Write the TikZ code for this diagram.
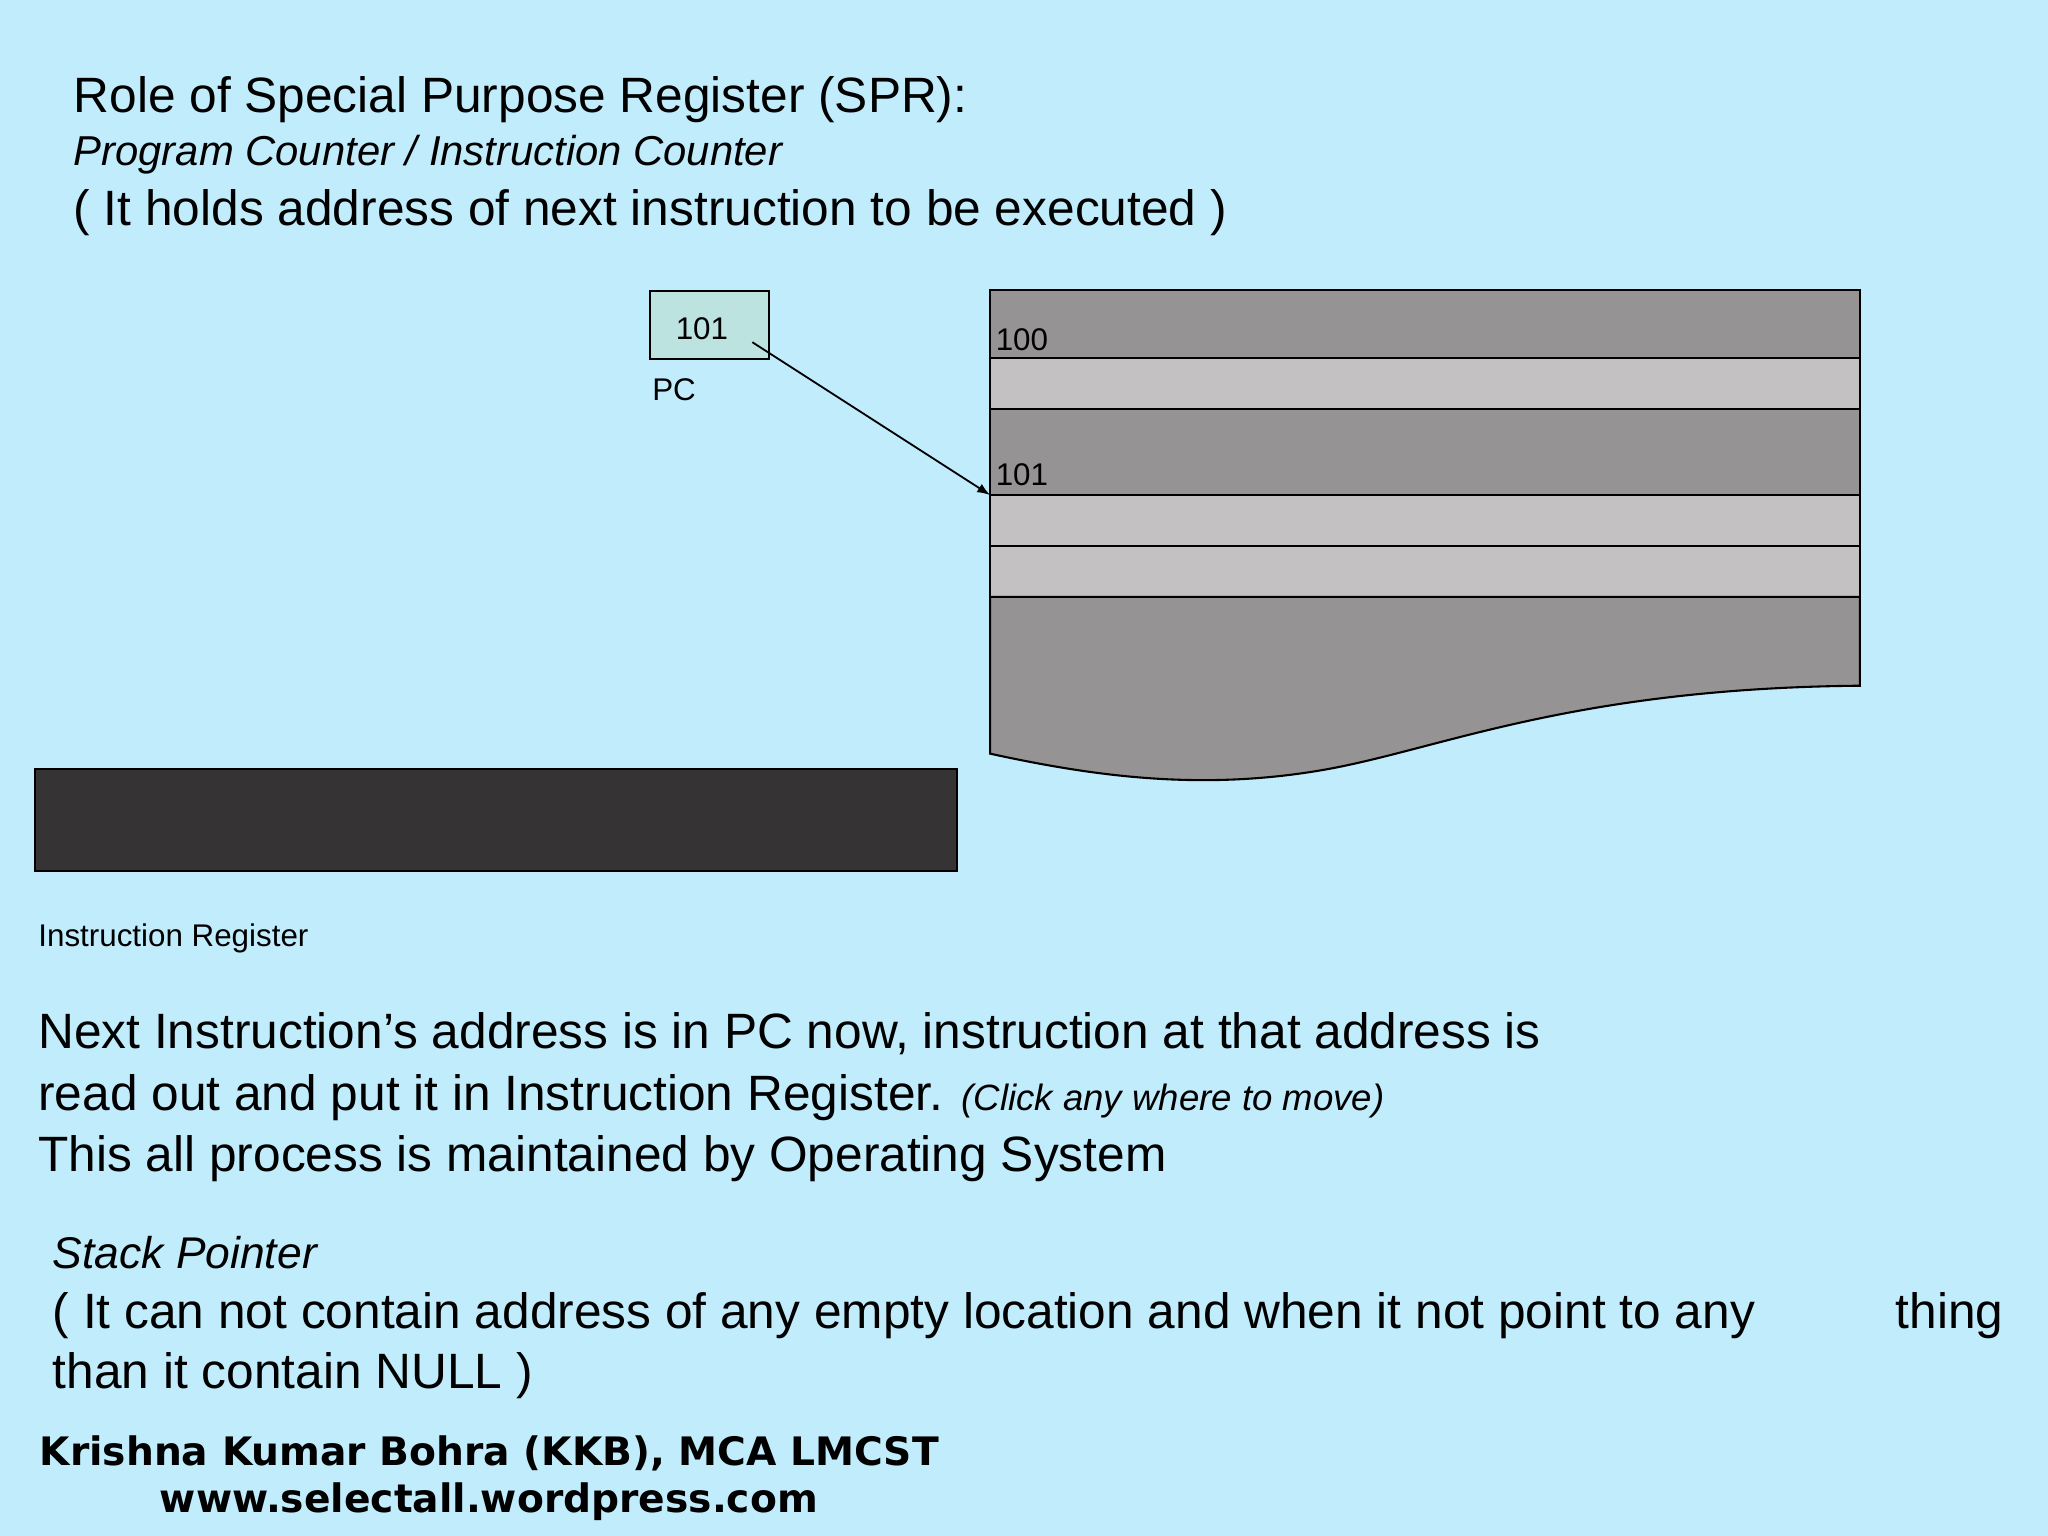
\documentclass[tikz,border=0pt]{standalone}
\usepackage{fontspec}
\setmainfont{Liberation Sans}
\newfontfamily\ftfont{DejaVu Sans}
\begin{document}
\begin{tikzpicture}[x=0.5pt,y=-0.5pt,
  txt/.style={anchor=base west,inner sep=0pt},
  cell/.style={draw=black,line width=0.8pt},
  dark/.style={cell,fill=darkcell},
  light/.style={cell,fill=lightcell}]
\definecolor{bg}{HTML}{C0ECFC}
\definecolor{darkcell}{HTML}{959393}
\definecolor{lightcell}{HTML}{C3C1C2}
\definecolor{pcfill}{HTML}{BDE3E0}
\definecolor{irfill}{HTML}{353333}
\fill[bg] (0,0) rectangle (1568,1176);
\useasboundingbox (0,0) rectangle (1568,1176);
\node[txt,font=\fontsize{19pt}{22pt}\selectfont] (t1) at (56,86) {Role of Special Purpose Register (SPR):};
\node[txt,font=\fontsize{16pt}{19pt}\selectfont\itshape] (t2) at (56,127) {Program Counter / Instruction Counter};
\node[txt,font=\fontsize{19pt}{22pt}\selectfont] (t3) at (56,173) {( It holds address of next instruction to be executed )};
% memory
\draw[dark] (758,222) rectangle (1424,274);
\draw[light] (758,274) rectangle (1424,313);
\draw[dark] (758,313) rectangle (1424,379);
\draw[light] (758,379) rectangle (1424,418);
\draw[light] (758,418) rectangle (1424,457);
\draw[dark] (758,457) -- (1424,457) -- (1424,525) .. controls (1200,527) and (1100,575) .. (1010,590) .. controls (920,605) and (840,595) .. (758,577) -- cycle;
\node[txt,font=\fontsize{12pt}{14pt}\selectfont] (m100) at (762,268) {100};
\node[txt,font=\fontsize{12pt}{14pt}\selectfont] (m101) at (762,372) {101};
\coordinate (tgt) at (758,379);
% PC
\node[draw=black,line width=0.8pt,fill=pcfill,minimum width=45.5pt,minimum height=26pt,inner sep=0pt,anchor=north west] (pc) at (497,222) {};
\node[txt,font=\fontsize{12pt}{14pt}\selectfont] (pcv) at (517,260) {101};
\node[txt,font=\fontsize{12pt}{14pt}\selectfont] (pcl) at (499,307) {PC};
\coordinate (src) at (576,262);
\draw[-latex,line width=0.7pt] (src) -- (tgt);
% IR
\node[draw=black,line width=0.8pt,fill=irfill,minimum width=353pt,minimum height=39pt,inner sep=0pt,anchor=north west] (ir) at (26,588) {};
\node[txt,font=\fontsize{12pt}{14pt}\selectfont] (irl) at (29,725) {Instruction Register};
% body
\node[txt,font=\fontsize{19pt}{22pt}\selectfont] (b1) at (29,803) {Next Instruction’s address is in PC now, instruction at that address is};
\node[txt,font=\fontsize{19pt}{22pt}\selectfont] (b2) at (29,850) {read out and put it in Instruction Register. {\fontsize{14pt}{16pt}\selectfont\itshape (Click any where to move)}};
\node[txt,font=\fontsize{19pt}{22pt}\selectfont] (b3) at (29,897) {This all process is maintained by Operating System};
\node[txt,font=\fontsize{17pt}{20pt}\selectfont\itshape] (s1) at (40,971) {Stack Pointer};
\node[txt,font=\fontsize{19pt}{22pt}\selectfont] (s2) at (40,1017) {( It can not contain address of any empty location and when it not point to any};
\node[txt,font=\fontsize{19pt}{22pt}\selectfont] (s2b) at (1451,1017) {thing};
\node[txt,font=\fontsize{19pt}{22pt}\selectfont] (s3) at (40,1063) {than it contain NULL )};
\node[txt,font=\ftfont\bfseries\fontsize{15pt}{18pt}\selectfont] (f1) at (30,1122) {Krishna Kumar Bohra (KKB), MCA LMCST};
\node[txt,font=\ftfont\bfseries\fontsize{15pt}{18pt}\selectfont] (f2) at (122,1158) {www.selectall.wordpress.com};
\end{tikzpicture}
\end{document}
